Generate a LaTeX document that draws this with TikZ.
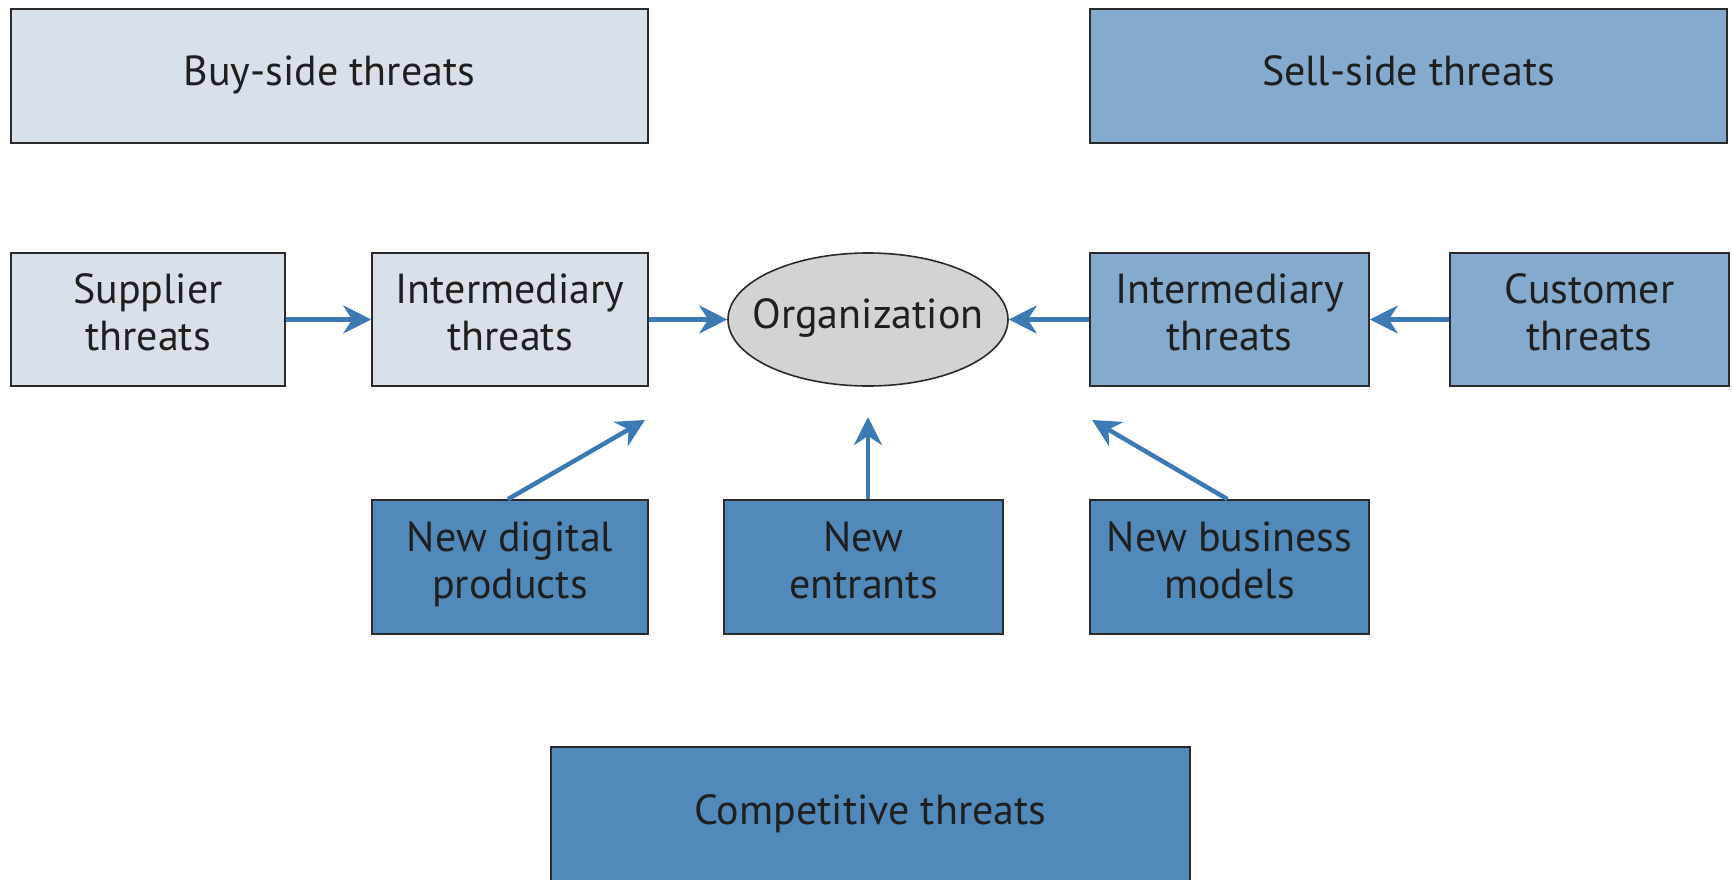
\documentclass[tikz,border=0pt]{standalone}
\usepackage{fontspec}
\setmainfont{PT Sans}
\usetikzlibrary{shapes.geometric,arrows.meta}
\definecolor{lightbox}{HTML}{D8E0EA}
\definecolor{midbox}{HTML}{84AACE}
\definecolor{darkbox}{HTML}{5089BA}
\definecolor{orgfill}{HTML}{D3D3D3}
\definecolor{arrowblue}{HTML}{3D7AB5}
\definecolor{edge}{HTML}{2A2A2A}
\begin{document}
\begin{tikzpicture}[x=1pt,y=-1pt,
  txt/.style={font=\fontsize{42}{47}\selectfont, text=black!88, align=center,
    execute at begin node=\strut, execute at end node=\strut},
  boxstyle/.style={draw=edge, line width=1.6pt, txt, inner sep=0pt},
  flow/.style={draw=arrowblue, line width=4.5pt,
    -{Stealth[length=28pt,width=28pt,inset=9pt]}}
]
\useasboundingbox (0,0) rectangle (1733,880);
% header boxes
\node[boxstyle, fill=lightbox, minimum width=637, minimum height=134] (buy) at (329.5,76) {Buy-side threats};
\node[boxstyle, fill=midbox, minimum width=637, minimum height=134] (sell) at (1408.5,76) {Sell-side threats};
% main row
\node[boxstyle, fill=lightbox, minimum width=274, minimum height=133] (sup) at (148,319.5) {Supplier\\threats};
\node[boxstyle, fill=lightbox, minimum width=276, minimum height=133] (intl) at (510,319.5) {Intermediary\\threats};
\node[draw=edge, line width=1.6pt, fill=orgfill, ellipse, minimum width=280, minimum height=133, inner sep=0pt,
  label={[txt, name=orgt]center:Organization}] (org) at (868,319.5) {};
\node[boxstyle, fill=midbox, minimum width=279, minimum height=133] (intr) at (1229.5,319.5) {Intermediary\\threats};
\node[boxstyle, fill=midbox, minimum width=279, minimum height=133] (cust) at (1589.5,319.5) {Customer\\threats};
% competitive row
\node[boxstyle, fill=darkbox, minimum width=276, minimum height=134] (dig) at (510,567) {New digital\\products};
\node[boxstyle, fill=darkbox, minimum width=279, minimum height=134] (ent) at (863.5,567) {New\\entrants};
\node[boxstyle, fill=darkbox, minimum width=279, minimum height=134] (biz) at (1229.5,567) {New business\\models};
% competitive threats box, running past the lower edge
\node[draw=edge, line width=1.6pt, fill=darkbox, minimum width=639, minimum height=200, inner sep=0pt] (comp) at (870.5,847) {};
\node[txt] (compt) at (870.5,815) {Competitive threats};
% target points of the competitive arrows
\coordinate (tdig) at (645,420);
\coordinate (tent) at (868,417);
\coordinate (tbiz) at (1092,420);
% connectors
\draw[flow] (sup.east) -- (intl.west);
\draw[flow] (intl.east) -- (org.west);
\draw[flow] (intr.west) -- (org.east);
\draw[flow] (cust.west) -- (intr.east);
\draw[flow] (dig.north) ++(-2,0) coordinate (sdig) -- (tdig);
\draw[flow] (ent.north -| tent) -- (tent);
\draw[flow] (biz.north) ++(-2,0) coordinate (sbiz) -- (tbiz);
\end{tikzpicture}
\end{document}
